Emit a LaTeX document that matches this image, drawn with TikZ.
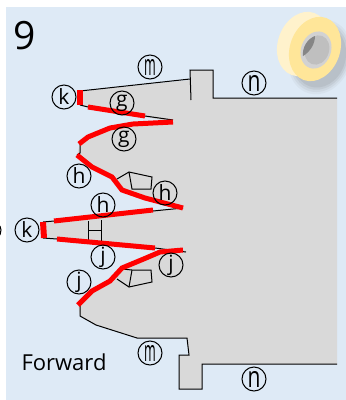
\documentclass[tikz,border=0pt]{standalone}
\usepackage{fontspec}
\setmainfont{Open Sans}
\definecolor{panelblue}{HTML}{DEEAF6}
\definecolor{partgray}{HTML}{D9D9D9}
\definecolor{tapeback}{HTML}{FFF2CC}
\definecolor{tapefront}{HTML}{FFE699}
\tikzset{
  circled/.style={draw,circle,line width=1pt,inner sep=0pt,minimum size=24pt,font=\fontsize{21}{21}\selectfont},
  outline/.style={line width=1pt,black},
  sealant/.style={line width=5pt,red}
}
\newcommand{\narrowm}{\scalebox{.6}[1.4]{m}}
\newcommand{\tallinn}{\scalebox{1}[1.4]{n}}

\begin{document}
\begin{tikzpicture}[x=1pt,y=-1pt]
\useasboundingbox (0,0) rectangle (346,400);
\fill[panelblue] (6,7) rectangle (346,400);

% part
\fill[partgray] (80,91) -- (190,80) -- (190,70) -- (213,70) -- (213,98) -- (337,98) -- (337,364)
  -- (202,364) -- (202,389) -- (179,389) -- (179,355) -- (189,355) -- (187,338) -- (137,338)
  -- (96,325) -- (80,316) -- (78,305) -- (92,291) -- (110,281) -- (122,268) -- (146,258)
  -- (160,252) -- (186,252) -- (155,248) -- (57,239) -- (43,238) -- (43,222) -- (54,221)
  -- (153,210) -- (183,208) -- (145,198) -- (122,190) -- (112,177) -- (92,167) -- (77,155)
  -- (80,143) -- (88,137) -- (110,128) -- (133,124) -- (173,122) -- (88,107) -- (80,105) -- cycle;

% outline
\draw[outline] (80,91) -- (190,79);
\draw[outline] (191,100) -- (190,70) -- (213,70) -- (213,98) -- (337,98);
\draw[outline] (80,105) -- (88,107);
\draw[outline] (145,116) -- (173,120);
\draw[outline] (80,143) -- (80,153) -- (77,155);
\draw[outline] (43,222) -- (54,221);
\draw[outline] (43,238) -- (57,239);
\draw[outline] (153,211) -- (183,208);
\draw[outline] (155,248) -- (186,252);
\draw[outline] (80,305) -- (80,316) -- (96,325) -- (137,338) -- (187,338) -- (189,355)
  -- (179,355) -- (179,389) -- (202,389) -- (202,364) -- (337,364);

% ladder
\draw[outline] (88,221) -- (88,240);
\draw[outline] (101,220) -- (101,241);
\draw[outline] (88,230) -- (101,230);

% blocks
\draw[outline] (117,179) -- (129,172) -- (152,177) -- (151,189) -- (132,189) -- (129,172);
\draw[outline] (122,269) -- (132,270) -- (151,270) -- (152,282) -- (129,287) -- (117,279);
\draw[outline] (132,270) -- (129,287);

% sealant
\draw[sealant,line width=6pt] (80,90) -- (80,105);
\draw[sealant,line width=6pt] (43,222) -- (44,238);
\draw[sealant] (88,107) -- (145,116);
\draw[sealant] (173,122) -- (133,124) -- (110,128) -- (88,137) -- (79,144);
\draw[sealant] (77,155) -- (92,167) -- (112,177) -- (122,190) -- (145,198) -- (183,208);
\draw[sealant] (54,221) -- (153,210);
\draw[sealant] (57,239) -- (155,248);
\draw[sealant] (78,305) -- (92,291) -- (110,281) -- (122,268) -- (146,258) -- (160,252) -- (183,250);

% labels
\node[circled] (m1) at (150,67) {\narrowm};
\node[circled] (n1) at (254,83) {\tallinn};
\node[circled] (k1) at (64,97) {k};
\node[circled] (g1) at (122,103) {g};
\node[circled] (g2) at (124,139) {g};
\node[circled] (h1) at (79,176) {h};
\node[circled] (h2) at (165,193) {h};
\node[circled] (h3) at (103,205) {h};
\node[circled] (k2) at (27,230) {k};
\node[circled] (j1) at (103,257) {j};
\node[circled] (j2) at (171,265) {j};
\node[circled] (j3) at (79,282) {j};
\node[circled] (m2) at (150,353) {\narrowm};
\node[circled] (n2) at (254,379) {\tallinn};
\draw[line width=1pt] (0,226) -- (1,230) -- (0,235);

\node[font=\fontsize{39}{39}\selectfont] (num) at (25,36) {9};
\node[font=\fontsize{22}{22}\selectfont] (fwd) at (64,362) {Forward};

% tape
\foreach \r/\o in {1/.05,.94/.07,.88/.09,.82/.1}
  \fill[gray!70!black,opacity=\o,rotate around={-20:(320,57)}] (320,57) ellipse ({\r*31} and {\r*38});
\fill[tapeback,rotate around={-20:(303,44)}] (303,44) ellipse (25 and 33);
\fill[tapefront,rotate around={-20:(315,49)}] (315,49) ellipse (25 and 33);
\fill[gray!35,rotate around={-20:(316,50)}] (316,50) ellipse (15 and 19);
\fill[gray!50,rotate around={-20:(317,50)}] (317,50) ellipse (12 and 15);
\fill[gray!95] (315,36) .. controls (307,39) and (302,48) .. (303,56)
  .. controls (310,52) and (315,44) .. (315,36);

\end{tikzpicture}
\end{document}
